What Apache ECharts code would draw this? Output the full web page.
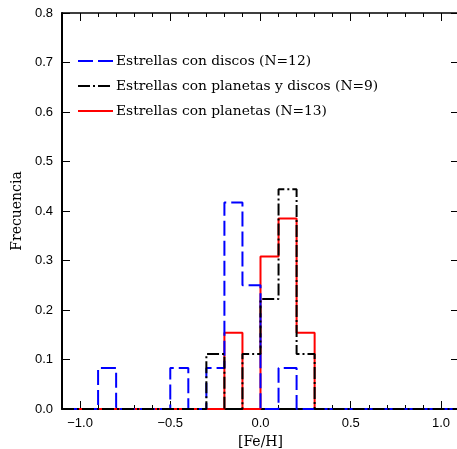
<!DOCTYPE html>
<html>
<head>
<meta charset="utf-8">
<script src="https://cdn.jsdelivr.net/npm/echarts@6/dist/echarts.min.js"></script>
<style>html,body{margin:0;padding:0;background:#fff}#c{width:457px;height:449px}</style>
</head>
<body>
<div id="c"></div>
<script>
// Bin left edges (width 0.1) from -1.1 to 1.0, plus final right edge 1.1
const binEdges = [-1.1,-1.0,-0.9,-0.8,-0.7,-0.6,-0.5,-0.4,-0.3,-0.2,-0.1,0.0,0.1,0.2,0.3,0.4,0.5,0.6,0.7,0.8,0.9,1.0,1.1];
// Frequencies per bin (22 bins)
const discos          = [0,0,0.083,0,0,0,0.083,0,0.083,0.417,0.250,0,0.083,0,0,0,0,0,0,0,0,0];
const planetasYDiscos = [0,0,0,0,0,0,0,0,0.111,0,0.111,0.222,0.444,0.111,0,0,0,0,0,0,0,0];
const planetas        = [0,0,0,0,0,0,0,0,0,0.154,0,0.308,0.385,0.154,0,0,0,0,0,0,0,0];
const seriesNames = ['Estrellas con discos (N=12)','Estrellas con planetas y discos (N=9)','Estrellas con planetas (N=13)'];
const xMajor = [-1.0,-0.5,0.0,0.5,1.0];
const xMinor = [-1.1,-0.9,-0.8,-0.7,-0.6,-0.4,-0.3,-0.2,-0.1,0.1,0.2,0.3,0.4,0.6,0.7,0.8,0.9,1.1];

function steps(vals){
  const pts = vals.map((v,i)=>[binEdges[i], v]);
  pts.push([binEdges[binEdges.length-1], vals[vals.length-1]]);
  return pts;
}
const serif = 'DejaVu Serif';
const sans = 'Liberation Sans';
const styles = [
  {color:'#0000ff', width:2, type:[15,5]},
  {color:'#000000', width:2, type:[12,3,2,3]},
  {color:'#ff0000', width:2, type:'solid'}
];
const chart = echarts.init(document.getElementById('c'), null, {renderer:'canvas'});
const xBase = {type:'value', min:-1.1, max:1.1, gridIndex:0, splitLine:{show:false}};
function fmt(v){ const s = Math.abs(v).toFixed(1); return v < -1e-9 ? '\u2212' + s : s; }
chart.setOption({
  animation:false,
  backgroundColor:'#fff',
  grid:{left:62, right:-2, top:13, bottom:40, containLabel:false, outerBoundsMode:'none'},
  legend:{
    orient:'vertical', left:72, top:49, itemWidth:35, itemHeight:14, itemGap:11,
    textStyle:{fontFamily:serif, fontSize:13.8, color:'#000', padding:[0,0,0,-2]},
    itemStyle:{opacity:0, borderWidth:0},
    data:seriesNames.map((n,i)=>({name:n, lineStyle:styles[i], itemStyle:{opacity:0, color:'rgba(0,0,0,0)', borderWidth:0}}))
  },
  xAxis:[
    Object.assign({}, xBase, {position:'bottom', name:'[Fe/H]', nameLocation:'middle', nameGap:22,
      nameTextStyle:{fontFamily:serif, fontSize:14, color:'#000'},
      axisLine:{show:true, onZero:false, lineStyle:{color:'#000', width:2}},
      axisTick:{show:true, inside:true, length:8, customValues:xMajor, lineStyle:{color:'#000', width:1}},
      axisLabel:{show:true, customValues:xMajor, formatter:fmt, margin:8, fontFamily:sans, fontSize:13, color:'#000'}}),
    Object.assign({}, xBase, {position:'bottom',
      axisLine:{show:false, onZero:false},
      axisTick:{show:true, inside:true, length:4, customValues:xMinor, lineStyle:{color:'#000', width:1}},
      axisLabel:{show:false}}),
    Object.assign({}, xBase, {position:'top',
      axisLine:{show:true, onZero:false, lineStyle:{color:'#000', width:1.5}},
      axisTick:{show:true, inside:true, length:8, customValues:xMajor, lineStyle:{color:'#000', width:1}},
      axisLabel:{show:false}}),
    Object.assign({}, xBase, {position:'top',
      axisLine:{show:false, onZero:false},
      axisTick:{show:true, inside:true, length:4, customValues:xMinor, lineStyle:{color:'#000', width:1}},
      axisLabel:{show:false}})
  ],
  yAxis:[
    {type:'value', min:0, max:0.8, interval:0.1, position:'left', splitLine:{show:false},
      name:'Frecuencia', nameLocation:'middle', nameGap:38,
      nameTextStyle:{fontFamily:serif, fontSize:14, color:'#000'},
      axisLine:{show:true, onZero:false, lineStyle:{color:'#000', width:2}},
      axisTick:{show:true, inside:true, length:8, lineStyle:{color:'#000', width:1}},
      axisLabel:{show:true, formatter:v=>v.toFixed(1), margin:9, fontFamily:sans, fontSize:13, color:'#000'}},
    {type:'value', min:0, max:0.8, interval:0.1, position:'right', splitLine:{show:false},
      axisLine:{show:true, onZero:false, lineStyle:{color:'#000', width:1.5}},
      axisTick:{show:true, inside:true, length:8, lineStyle:{color:'#000', width:1}},
      axisLabel:{show:false}}
  ],
  series:[
    {name:seriesNames[0], type:'line', step:'end', symbol:'none', data:steps(discos),
      xAxisIndex:0, yAxisIndex:0, clip:false,
      lineStyle:styles[0], itemStyle:{color:'#0000ff'}, z:3},
    {name:seriesNames[1], type:'line', step:'end', symbol:'none', data:steps(planetasYDiscos),
      xAxisIndex:0, yAxisIndex:0, clip:false,
      lineStyle:styles[1], itemStyle:{color:'#000'}, z:4},
    {name:seriesNames[2], type:'line', step:'end', symbol:'none', data:steps(planetas),
      xAxisIndex:0, yAxisIndex:0, clip:false,
      lineStyle:styles[2], itemStyle:{color:'#ff0000'}, z:2}
  ]
});
</script>
</body>
</html>
